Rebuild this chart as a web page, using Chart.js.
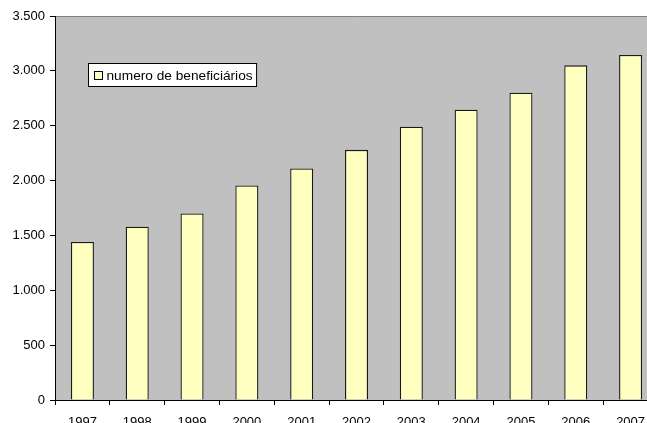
<!DOCTYPE html>
<html lang="pt">
<head>
    <meta charset="UTF-8">
    <title>Numero de beneficiários</title>
    <script src="https://cdn.jsdelivr.net/npm/chart.js"></script>
    <style>
        html, body {
            margin: 0;
            padding: 0;
            overflow: hidden;
            background: #fff;
        }
        #frame {
            width: 647px;
            height: 423px;
            overflow: hidden;
            position: relative;
        }
        canvas {
            display: block;
        }
    </style>
</head>
<body>
    <div id="frame">
        <canvas id="barChart" width="663" height="423"></canvas>
    </div>

    <script>
        // data
        const years = ['1997', '1998', '1999', '2000', '2001', '2002', '2003', '2004', '2005', '2006', '2007'];
        const beneficiarios = [1440, 1580, 1700, 1955, 2110, 2280, 2490, 2645, 2800, 3050, 3145];
        const seriesLabel = 'numero de beneficiários';
        const yTicks = [0, 500, 1000, 1500, 2000, 2500, 3000, 3500];

        const fontFamily = '"Liberation Sans", Arial, sans-serif';

        // gray plot area + gray top border
        const plotBackground = {
            id: 'plotBackground',
            beforeDraw(chart) {
                const { ctx, chartArea } = chart;
                ctx.save();
                ctx.fillStyle = '#c0c0c0';
                ctx.fillRect(chartArea.left, chartArea.top, chartArea.right - chartArea.left, chartArea.bottom - chartArea.top);
                ctx.strokeStyle = '#808080';
                ctx.lineWidth = 1;
                ctx.beginPath();
                ctx.moveTo(chartArea.left, chartArea.top + 0.5);
                ctx.lineTo(chartArea.right, chartArea.top + 0.5);
                ctx.stroke();
                ctx.restore();
            }
        };

        // legend box drawn inside the plot area
        const innerLegend = {
            id: 'innerLegend',
            afterDraw(chart) {
                const { ctx, chartArea } = chart;
                const ds = chart.data.datasets[0];
                const x = chartArea.left + 33.5;
                const y = chartArea.top + 47.5;
                ctx.save();
                ctx.font = '13.7px ' + fontFamily;
                const textW = ctx.measureText(ds.label).width;
                const w = textW + 22;
                const h = 23;
                ctx.fillStyle = '#fff';
                ctx.fillRect(x, y, w, h);
                ctx.strokeStyle = '#000';
                ctx.lineWidth = 1;
                ctx.strokeRect(x, y, w, h);
                ctx.fillStyle = ds.backgroundColor;
                ctx.fillRect(x + 6, y + 8, 8, 8);
                ctx.strokeRect(x + 6, y + 8, 8, 8);
                ctx.fillStyle = '#000';
                ctx.textBaseline = 'middle';
                ctx.fillText(ds.label, x + 18, y + h / 2 + 1);
                ctx.restore();
            }
        };

        const ctx = document.getElementById('barChart').getContext('2d');
        new Chart(ctx, {
            type: 'bar',
            data: {
                labels: years,
                datasets: [{
                    label: seriesLabel,
                    data: beneficiarios,
                    backgroundColor: '#ffffc0',
                    borderColor: '#1a1a1a',
                    borderWidth: 1.3,
                    borderSkipped: 'bottom',
                    categoryPercentage: 1,
                    barPercentage: 0.42
                }]
            },
            options: {
                responsive: false,
                animation: false,
                devicePixelRatio: 1,
                layout: {
                    padding: { top: 16, right: 5, left: 0, bottom: 0 }
                },
                plugins: {
                    legend: { display: false },
                    tooltip: { enabled: false }
                },
                scales: {
                    x: {
                        grid: {
                            offset: true,
                            drawOnChartArea: false,
                            drawTicks: true,
                            tickLength: 5,
                            color: '#000'
                        },
                        border: { color: '#000', width: 1 },
                        ticks: {
                            color: '#000',
                            padding: 10,
                            maxRotation: 0,
                            autoSkip: false,
                            font: { family: fontFamily, size: 13 }
                        },
                        afterFit(scale) {
                            scale.height = 23;
                        }
                    },
                    y: {
                        min: yTicks[0],
                        max: yTicks[yTicks.length - 1],
                        afterBuildTicks(scale) {
                            scale.ticks = yTicks.map(v => ({ value: v }));
                        },
                        grid: {
                            drawOnChartArea: false,
                            drawTicks: true,
                            tickLength: 5,
                            color: '#000'
                        },
                        border: { color: '#000', width: 1 },
                        ticks: {
                            color: '#000',
                            padding: 5,
                            font: { family: fontFamily, size: 13 },
                            callback: v => v.toString().replace(/\B(?=(\d{3})+(?!\d))/g, '.')
                        },
                        afterFit(scale) {
                            scale.width = 55;
                        }
                    }
                }
            },
            plugins: [plotBackground, innerLegend]
        });
    </script>
</body>
</html>
